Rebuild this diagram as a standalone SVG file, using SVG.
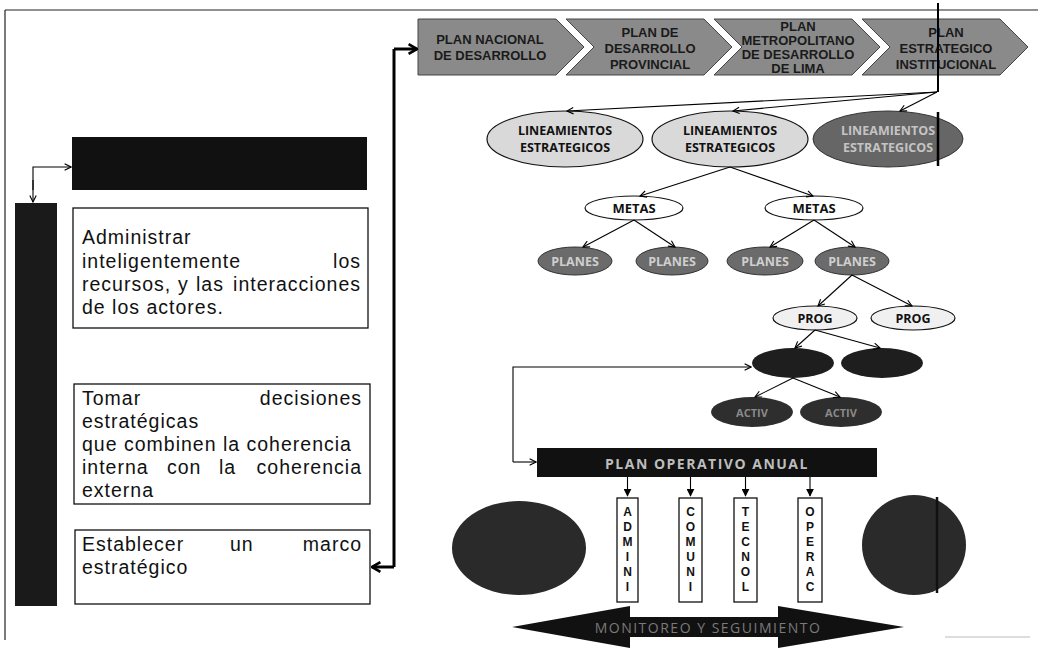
<svg xmlns="http://www.w3.org/2000/svg" width="1038" height="660" viewBox="0 0 1038 660">
<defs>
<marker id="v" viewBox="0 0 10 10" refX="9" refY="5" markerWidth="8" markerHeight="8" orient="auto" markerUnits="userSpaceOnUse">
<path d="M1,1 L9,5 L1,9" fill="none" stroke="#000" stroke-width="1.4"/>
</marker>
<marker id="tri" viewBox="0 0 10 10" refX="9" refY="5" markerWidth="8" markerHeight="8" orient="auto" markerUnits="userSpaceOnUse">
<path d="M0,0 L10,5 L0,10 z" fill="#000"/>
</marker>
<marker id="thick" viewBox="0 0 10 10" refX="9" refY="5" markerWidth="12" markerHeight="12" orient="auto" markerUnits="userSpaceOnUse">
<path d="M2,1 L9,5 L2,9" fill="none" stroke="#000" stroke-width="2.2"/>
</marker>
</defs>
<style>
.chev{fill:#8a8a8a;stroke:#444;stroke-width:1}
.ct{font-family:"Liberation Sans",Arial,sans-serif;font-size:13px;font-weight:bold;fill:#1a1a1a;text-anchor:middle;dominant-baseline:central}
.et{font-family:"Open Sans","Liberation Sans",sans-serif;font-size:12.5px;font-weight:bold;fill:#111;text-anchor:middle;dominant-baseline:central}
.body{font-family:"Liberation Sans",Arial,sans-serif;font-size:19.5px;letter-spacing:1px;fill:#111}
.box{fill:#fff;stroke:#111;stroke-width:1.3}
.ln{fill:none;stroke:#000;stroke-width:1.1}
.vl{font-family:"Liberation Sans",Arial,sans-serif;font-size:12px;font-weight:bold;fill:#111;text-anchor:middle;dominant-baseline:central}
</style>
<rect width="1038" height="660" fill="#fff"/>
<!-- frame -->
<g id="frame" stroke="#222" stroke-width="1.2" fill="none">
<line x1="5" y1="10" x2="1038" y2="10"/>
<line x1="5" y1="10" x2="5" y2="640"/>
<line x1="945" y1="637" x2="1030" y2="637" stroke="#bbb"/>
</g>

<!-- chevrons -->
<g id="plan-nacional">
<polygon class="chev" points="418,19 556,19 584,47 556,75 418,75"/>
<text class="ct" x="490" y="39">PLAN NACIONAL</text>
<text class="ct" x="490" y="55">DE DESARROLLO</text>
</g>
<g id="plan-provincial">
<polygon class="chev" points="566,19 704,19 732,47 704,75 566,75 594,47"/>
<text class="ct" x="650" y="32">PLAN DE</text>
<text class="ct" x="650" y="48">DESARROLLO</text>
<text class="ct" x="650" y="64">PROVINCIAL</text>
</g>
<g id="plan-metropolitano">
<polygon class="chev" points="714,19 852,19 880,47 852,75 714,75 742,47"/>
<text class="ct" x="798" y="26">PLAN</text>
<text class="ct" x="798" y="40">METROPOLITANO</text>
<text class="ct" x="798" y="54">DE DESARROLLO</text>
<text class="ct" x="798" y="68">DE LIMA</text>
</g>
<g id="plan-estrategico">
<polygon class="chev" points="862,19 1000,19 1028,47 1000,75 862,75 890,47"/>
<text class="ct" x="946" y="32">PLAN</text>
<text class="ct" x="946" y="48">ESTRATEGICO</text>
<text class="ct" x="946" y="64">INSTITUCIONAL</text>
</g>

<!-- lineamientos -->
<g id="lin1">
<ellipse cx="565" cy="139" rx="78" ry="28" fill="#d9d9d9" stroke="#111" stroke-width="1.2"/>
<text class="et" x="565" y="130">LINEAMIENTOS</text>
<text class="et" x="565" y="147">ESTRATEGICOS</text>
</g>
<g id="lin2">
<ellipse cx="730" cy="139" rx="78" ry="28" fill="#d9d9d9" stroke="#111" stroke-width="1.2"/>
<text class="et" x="730" y="130">LINEAMIENTOS</text>
<text class="et" x="730" y="147">ESTRATEGICOS</text>
</g>
<g id="lin3">
<ellipse cx="888" cy="139" rx="75" ry="28" fill="#666" stroke="#333" stroke-width="1"/>
<text class="et" x="888" y="130" style="fill:#c4c4c4">LINEAMIENTOS</text>
<text class="et" x="888" y="147" style="fill:#c4c4c4">ESTRATEGICOS</text>
<line x1="938" y1="112" x2="938" y2="166" stroke="#000" stroke-width="2.5"/>
</g>

<!-- metas -->
<g id="metas1">
<ellipse cx="634" cy="208" rx="49" ry="12" fill="#fff" stroke="#111" stroke-width="1.2"/>
<text class="et" x="634" y="208" style="font-size:13px">METAS</text>
</g>
<g id="metas2">
<ellipse cx="814" cy="208" rx="49" ry="12" fill="#fff" stroke="#111" stroke-width="1.2"/>
<text class="et" x="814" y="208" style="font-size:13px">METAS</text>
</g>

<!-- planes -->
<g id="planes1"><ellipse cx="575" cy="261" rx="37" ry="14" fill="#6b6b6b" stroke="#333"/><text class="et" x="575" y="261" style="fill:#cfcfcf">PLANES</text></g>
<g id="planes2"><ellipse cx="672" cy="261" rx="36" ry="14" fill="#6b6b6b" stroke="#333"/><text class="et" x="672" y="261" style="fill:#cfcfcf">PLANES</text></g>
<g id="planes3"><ellipse cx="765" cy="261" rx="38" ry="14" fill="#6b6b6b" stroke="#333"/><text class="et" x="765" y="261" style="fill:#cfcfcf">PLANES</text></g>
<g id="planes4"><ellipse cx="852" cy="261" rx="37" ry="14" fill="#6b6b6b" stroke="#333"/><text class="et" x="852" y="261" style="fill:#cfcfcf">PLANES</text></g>

<!-- prog -->
<g id="prog1"><ellipse cx="815" cy="318" rx="42" ry="12" fill="#f0f0f0" stroke="#111" stroke-width="1.2"/><text class="et" x="815" y="318">PROG</text></g>
<g id="prog2"><ellipse cx="913" cy="318" rx="42" ry="12" fill="#f0f0f0" stroke="#111" stroke-width="1.2"/><text class="et" x="913" y="318">PROG</text></g>

<!-- dark -->
<g id="proy1"><ellipse cx="793" cy="363" rx="41" ry="15" fill="#1e1e1e"/></g>
<g id="proy2"><ellipse cx="882" cy="363" rx="41" ry="15" fill="#1e1e1e"/></g>
<g id="activ1"><ellipse cx="752" cy="412" rx="41" ry="15" fill="#2e2e2e"/><text class="et" x="752" y="412" style="fill:#8a8a8a;font-size:11px">ACTIV</text></g>
<g id="activ2"><ellipse cx="841" cy="412" rx="41" ry="15" fill="#2e2e2e"/><text class="et" x="841" y="412" style="fill:#8a8a8a;font-size:11px">ACTIV</text></g>

<!-- POA -->
<g id="poa">
<rect x="537" y="448" width="340" height="29" fill="#111"/>
<text class="et" x="707" y="463" style="fill:#bdbdbd;font-size:14px;letter-spacing:1.5px">PLAN OPERATIVO ANUAL</text>
</g>

<!-- vertical boxes -->
<g id="admini">
<rect class="box" x="617" y="498" width="21" height="104"/>
<text class="vl"><tspan x="627.5" y="512">A</tspan><tspan x="627.5" y="527">D</tspan><tspan x="627.5" y="542">M</tspan><tspan x="627.5" y="557">I</tspan><tspan x="627.5" y="572">N</tspan><tspan x="627.5" y="587">I</tspan></text>
</g>
<g id="comuni">
<rect class="box" x="679" y="498" width="23" height="104"/>
<text class="vl"><tspan x="690.5" y="512">C</tspan><tspan x="690.5" y="527">O</tspan><tspan x="690.5" y="542">M</tspan><tspan x="690.5" y="557">U</tspan><tspan x="690.5" y="572">N</tspan><tspan x="690.5" y="587">I</tspan></text>
</g>
<g id="tecnol">
<rect class="box" x="734" y="498" width="23" height="104"/>
<text class="vl"><tspan x="745.5" y="512">T</tspan><tspan x="745.5" y="527">E</tspan><tspan x="745.5" y="542">C</tspan><tspan x="745.5" y="557">N</tspan><tspan x="745.5" y="572">O</tspan><tspan x="745.5" y="587">L</tspan></text>
</g>
<g id="operac">
<rect class="box" x="798" y="498" width="24" height="104"/>
<text class="vl"><tspan x="810" y="512">O</tspan><tspan x="810" y="527">P</tspan><tspan x="810" y="542">E</tspan><tspan x="810" y="557">R</tspan><tspan x="810" y="572">A</tspan><tspan x="810" y="587">C</tspan></text>
</g>

<!-- big ellipses -->
<g id="ellipse-left"><ellipse cx="519" cy="548" rx="67" ry="47" fill="#2a2a2a"/></g>
<g id="ellipse-right"><ellipse cx="914" cy="545" rx="52" ry="50" fill="#2a2a2a"/><line x1="937" y1="497" x2="937" y2="593" stroke="#111" stroke-width="2.5"/></g>

<!-- monitoreo -->
<g id="monitoreo">
<polygon points="512,627 630,606 630,617 778,617 778,606 904,627 778,648 778,637 630,637 630,648" fill="#111"/>
<text class="et" x="708" y="627" style="fill:#7a7a7a;font-size:14px;font-weight:normal;letter-spacing:1.5px">MONITOREO Y SEGUIMIENTO</text>
</g>

<!-- left side -->
<g id="header-box"><rect x="72" y="137" width="295" height="53" fill="#111"/></g>
<g id="bar"><rect x="15" y="203" width="42" height="403" fill="#1a1a1a"/></g>
<g id="administrar">
<rect class="box" x="73" y="208" width="295" height="120"/>
<text class="body" x="82" y="244">Administrar</text>
<text class="body" x="82" y="268">inteligentemente</text>
<text class="body" x="361" y="268" text-anchor="end">los</text>
<text class="body" x="82" y="291">recursos,</text>
<text class="body" x="178" y="291">y</text>
<text class="body" x="196" y="291">las</text>
<text class="body" x="361" y="291" text-anchor="end">interacciones</text>
<text class="body" x="82" y="314">de los actores.</text>
</g>
<g id="tomar">
<rect class="box" x="74" y="384" width="296" height="120"/>
<text class="body" x="82" y="405">Tomar</text>
<text class="body" x="362" y="405" text-anchor="end">decisiones</text>
<text class="body" x="82" y="428">estratégicas</text>
<text class="body" x="82" y="451">que combinen la coherencia</text>
<text class="body" x="82" y="474">interna</text>
<text class="body" x="167" y="474">con</text>
<text class="body" x="219" y="474">la</text>
<text class="body" x="362" y="474" text-anchor="end">coherencia</text>
<text class="body" x="82" y="497">externa</text>
</g>
<g id="establecer">
<rect class="box" x="75" y="530" width="295" height="74"/>
<text class="body" x="82" y="551">Establecer</text>
<text class="body" x="230" y="551">un</text>
<text class="body" x="362" y="551" text-anchor="end">marco</text>
<text class="body" x="82" y="574">estratégico</text>
</g>

<!-- connectors -->
<g id="connectors">
<polyline points="394,49 394,567" fill="none" stroke="#000" stroke-width="3"/>
<line x1="394" y1="49" x2="417" y2="49" stroke="#000" stroke-width="3" marker-end="url(#thick)"/>
<line x1="394" y1="567" x2="372" y2="567" stroke="#000" stroke-width="3" marker-end="url(#thick)"/>
<polyline class="ln" points="33,190 33,167 71,167" marker-end="url(#v)"/>
<line class="ln" x1="33" y1="180" x2="33" y2="202" marker-end="url(#v)"/>
<line x1="938" y1="3" x2="938" y2="92" stroke="#000" stroke-width="2"/>
<line class="ln" x1="937" y1="92" x2="567" y2="111" marker-end="url(#v)"/>
<line class="ln" x1="937" y1="92" x2="733" y2="111" marker-end="url(#v)"/>
<line class="ln" x1="937" y1="92" x2="900" y2="111" marker-end="url(#v)"/>
<line class="ln" x1="730" y1="167" x2="640" y2="196" marker-end="url(#v)"/>
<line class="ln" x1="730" y1="167" x2="813" y2="196" marker-end="url(#v)"/>
<line class="ln" x1="634" y1="220" x2="583" y2="247" marker-end="url(#v)"/>
<line class="ln" x1="634" y1="220" x2="675" y2="247" marker-end="url(#v)"/>
<line class="ln" x1="814" y1="220" x2="770" y2="247" marker-end="url(#v)"/>
<line class="ln" x1="814" y1="220" x2="855" y2="247" marker-end="url(#v)"/>
<line class="ln" x1="852" y1="275" x2="818" y2="306" marker-end="url(#v)"/>
<line class="ln" x1="852" y1="275" x2="912" y2="306" marker-end="url(#v)"/>
<line class="ln" x1="815" y1="330" x2="795" y2="348" marker-end="url(#v)"/>
<line class="ln" x1="815" y1="330" x2="880" y2="348" marker-end="url(#v)"/>
<line class="ln" x1="793" y1="378" x2="755" y2="397" marker-end="url(#v)"/>
<line class="ln" x1="793" y1="378" x2="840" y2="397" marker-end="url(#v)"/>
<polyline class="ln" points="513,462 513,367 751,367" marker-end="url(#v)"/>
<line class="ln" x1="513" y1="462" x2="536" y2="462" marker-end="url(#v)"/>
<line class="ln" x1="627.5" y1="477" x2="627.5" y2="496" marker-end="url(#tri)"/>
<line class="ln" x1="690.5" y1="477" x2="690.5" y2="496" marker-end="url(#tri)"/>
<line class="ln" x1="745.5" y1="477" x2="745.5" y2="496" marker-end="url(#tri)"/>
<line class="ln" x1="810" y1="477" x2="810" y2="496" marker-end="url(#tri)"/>
</g>
</svg>
